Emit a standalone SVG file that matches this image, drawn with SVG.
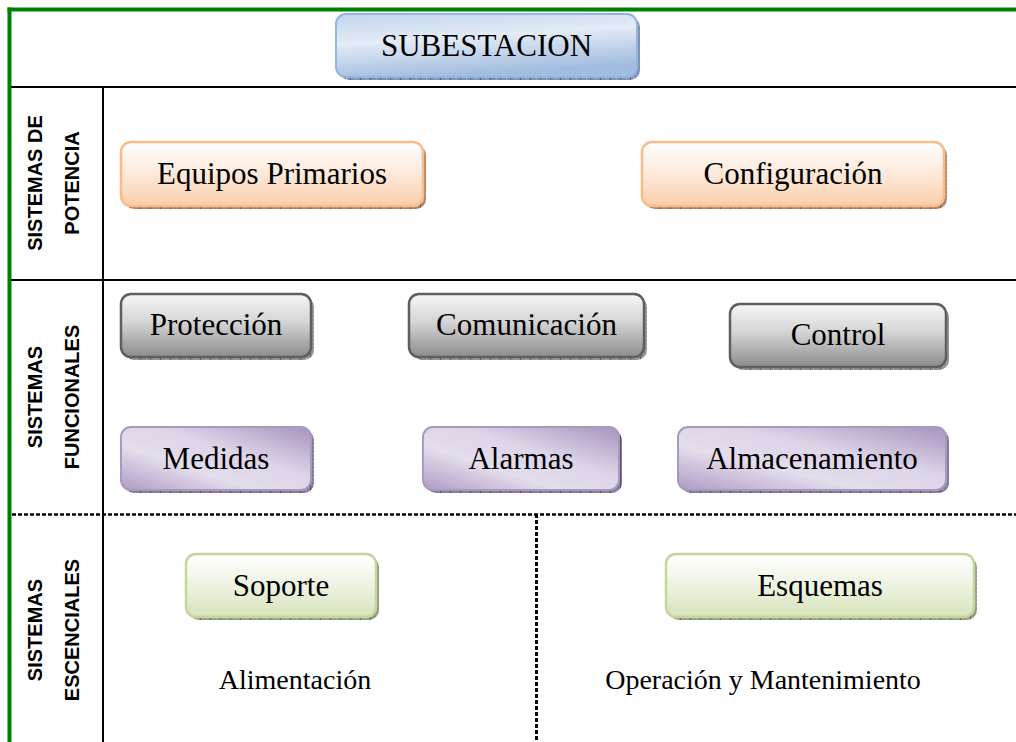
<svg xmlns="http://www.w3.org/2000/svg" width="1016" height="742" viewBox="0 0 1016 742">
  <style>
    .lbl { font-family: "Liberation Serif", "Times New Roman", serif; font-size: 31px; fill: #000; text-anchor: middle; }
    .sub { font-family: "Liberation Serif", "Times New Roman", serif; font-size: 28px; fill: #000; text-anchor: middle; }
    .side { font-family: "Liberation Sans", Arial, sans-serif; font-size: 20px; font-weight: bold; fill: #000; text-anchor: middle; }
    .frame { stroke: #008000; stroke-width: 4; fill: none; }
    .rule { stroke: #000; stroke-width: 2; fill: none; }
    .dash { stroke: #000; stroke-width: 2.5; stroke-dasharray: 4 2; fill: none; }
    .dashv { stroke: #000; stroke-width: 3; stroke-dasharray: 4 2; fill: none; }
    .tex { fill: url(#tick); }
  </style>
  <defs>
    <!-- textured bevel under each rounded box -->
    <pattern id="tick" width="10" height="4" patternUnits="userSpaceOnUse">
      <rect width="10" height="4" fill="#000" fill-opacity="0.12"/>
      <rect x="0" width="1" height="4" fill="#000" fill-opacity="0.35"/>
      <rect x="3" y="1" width="1" height="1" fill="#fff" fill-opacity="0.4"/>
      <rect x="6" y="2" width="1" height="1" fill="#fff" fill-opacity="0.4"/>
    </pattern>
    <linearGradient id="gBlue" x1="0" y1="0" x2="0.3" y2="1">
      <stop offset="0" stop-color="#c3d5ee"/>
      <stop offset="0.45" stop-color="#e3ebf6"/>
      <stop offset="1" stop-color="#a2bcdf"/>
    </linearGradient>
    <linearGradient id="gOrange" x1="0" y1="0" x2="0" y2="1">
      <stop offset="0" stop-color="#ffffff"/>
      <stop offset="0.5" stop-color="#fde9da"/>
      <stop offset="1" stop-color="#fbcfa9"/>
    </linearGradient>
    <linearGradient id="gGray" x1="0" y1="0" x2="0" y2="1">
      <stop offset="0" stop-color="#f7f7f7"/>
      <stop offset="0.45" stop-color="#d4d4d4"/>
      <stop offset="1" stop-color="#8c8c8c"/>
    </linearGradient>
    <linearGradient id="gPurple" x1="0" y1="1" x2="1" y2="0">
      <stop offset="0" stop-color="#ad9bc3"/>
      <stop offset="0.35" stop-color="#e4ddec"/>
      <stop offset="0.6" stop-color="#ddd4e8"/>
      <stop offset="1" stop-color="#a593bd"/>
    </linearGradient>
    <linearGradient id="gGreen" x1="0" y1="0" x2="0" y2="1">
      <stop offset="0" stop-color="#ffffff"/>
      <stop offset="0.5" stop-color="#edf3e2"/>
      <stop offset="1" stop-color="#d5e3ba"/>
    </linearGradient>
  </defs>

  <rect width="1016" height="742" fill="#fff"/>

  <!-- table grid -->
  <g id="grid">
    <line class="frame" x1="7.5" y1="9.5" x2="1016" y2="9.5"/>
    <line class="frame" x1="9.5" y1="7.5" x2="9.5" y2="742"/>
    <line class="rule" x1="11" y1="87" x2="1016" y2="87"/>
    <line class="rule" x1="103" y1="87" x2="103" y2="742"/>
    <line class="rule" x1="11" y1="280" x2="1016" y2="280"/>
    <line class="dash" x1="12" y1="514.5" x2="1016" y2="514.5"/>
    <line class="dashv" x1="536.5" y1="514" x2="536.5" y2="742"/>
  </g>

  <!-- row headings -->
  <g id="row-potencia">
    <text class="side" transform="translate(35,183) rotate(-90)" y="7">SISTEMAS DE</text>
    <text class="side" transform="translate(72,183) rotate(-90)" y="7">POTENCIA</text>
  </g>
  <g id="row-funcionales">
    <text class="side" transform="translate(35,397) rotate(-90)" y="7">SISTEMAS</text>
    <text class="side" transform="translate(72,397) rotate(-90)" y="7">FUNCIONALES</text>
  </g>
  <g id="row-escenciales">
    <text class="side" transform="translate(35,630) rotate(-90)" y="7">SISTEMAS</text>
    <text class="side" transform="translate(72,630) rotate(-90)" y="7">ESCENCIALES</text>
  </g>

  <!-- nodes -->
  <g id="subestacion">
    <rect x="339" y="17" width="301" height="63" rx="10" fill="#8ea9cf"/>
    <rect class="tex" x="339" y="17" width="301" height="63" rx="10"/>
    <rect x="336" y="14" width="301" height="63" rx="10" fill="url(#gBlue)" stroke="#95b4de" stroke-width="2"/>
    <text class="lbl" x="486.5" y="56">SUBESTACION</text>
  </g>

  <g id="equipos-primarios">
    <rect x="124" y="145" width="302" height="64" rx="10" fill="#c89a74"/>
    <rect class="tex" x="124" y="145" width="302" height="64" rx="10"/>
    <rect x="121" y="142" width="302" height="64" rx="10" fill="url(#gOrange)" stroke="#f9bd8d" stroke-width="2.5"/>
    <text class="lbl" x="272" y="184">Equipos Primarios</text>
  </g>

  <g id="configuracion">
    <rect x="645" y="145" width="302" height="64" rx="10" fill="#c89a74"/>
    <rect class="tex" x="645" y="145" width="302" height="64" rx="10"/>
    <rect x="642" y="142" width="302" height="64" rx="10" fill="url(#gOrange)" stroke="#f9bd8d" stroke-width="2.5"/>
    <text class="lbl" x="793" y="184">Configuración</text>
  </g>

  <g id="proteccion">
    <rect x="124" y="297" width="190" height="63" rx="10" fill="#a8a8a8"/>
    <rect class="tex" x="124" y="297" width="190" height="63" rx="10"/>
    <rect x="121" y="294" width="190" height="63" rx="10" fill="url(#gGray)" stroke="#5f5f5f" stroke-width="2.5"/>
    <text class="lbl" x="216" y="335">Protección</text>
  </g>

  <g id="comunicacion">
    <rect x="412" y="297" width="235" height="63" rx="10" fill="#a8a8a8"/>
    <rect class="tex" x="412" y="297" width="235" height="63" rx="10"/>
    <rect x="409" y="294" width="235" height="63" rx="10" fill="url(#gGray)" stroke="#5f5f5f" stroke-width="2.5"/>
    <text class="lbl" x="526.5" y="335">Comunicación</text>
  </g>

  <g id="control">
    <rect x="733" y="307" width="216" height="63" rx="10" fill="#a8a8a8"/>
    <rect class="tex" x="733" y="307" width="216" height="63" rx="10"/>
    <rect x="730" y="304" width="216" height="63" rx="10" fill="url(#gGray)" stroke="#5f5f5f" stroke-width="2.5"/>
    <text class="lbl" x="838" y="345">Control</text>
  </g>

  <g id="medidas">
    <rect x="124" y="430" width="190" height="63" rx="10" fill="#9a8eab"/>
    <rect class="tex" x="124" y="430" width="190" height="63" rx="10"/>
    <rect x="121" y="427" width="190" height="63" rx="10" fill="url(#gPurple)" stroke="#a998bf" stroke-width="2"/>
    <text class="lbl" x="216" y="469">Medidas</text>
  </g>

  <g id="alarmas">
    <rect x="426" y="430" width="196" height="63" rx="10" fill="#9a8eab"/>
    <rect class="tex" x="426" y="430" width="196" height="63" rx="10"/>
    <rect x="423" y="427" width="196" height="63" rx="10" fill="url(#gPurple)" stroke="#a998bf" stroke-width="2"/>
    <text class="lbl" x="521" y="469">Alarmas</text>
  </g>

  <g id="almacenamiento">
    <rect x="681" y="430" width="268" height="63" rx="10" fill="#9a8eab"/>
    <rect class="tex" x="681" y="430" width="268" height="63" rx="10"/>
    <rect x="678" y="427" width="268" height="63" rx="10" fill="url(#gPurple)" stroke="#a998bf" stroke-width="2"/>
    <text class="lbl" x="812" y="469">Almacenamiento</text>
  </g>

  <g id="soporte">
    <rect x="189" y="557" width="190" height="63" rx="10" fill="#a4b08c"/>
    <rect class="tex" x="189" y="557" width="190" height="63" rx="10"/>
    <rect x="186" y="554" width="190" height="63" rx="10" fill="url(#gGreen)" stroke="#c3d69b" stroke-width="2.5"/>
    <text class="lbl" x="281" y="596">Soporte</text>
  </g>

  <g id="esquemas">
    <rect x="669" y="557" width="308" height="63" rx="10" fill="#a4b08c"/>
    <rect class="tex" x="669" y="557" width="308" height="63" rx="10"/>
    <rect x="666" y="554" width="308" height="63" rx="10" fill="url(#gGreen)" stroke="#c3d69b" stroke-width="2.5"/>
    <text class="lbl" x="820" y="596">Esquemas</text>
  </g>

  <!-- plain captions -->
  <g id="alimentacion">
    <text class="sub" x="295" y="689">Alimentación</text>
  </g>
  <g id="operacion">
    <text class="sub" x="763" y="689">Operación y Mantenimiento</text>
  </g>
</svg>
